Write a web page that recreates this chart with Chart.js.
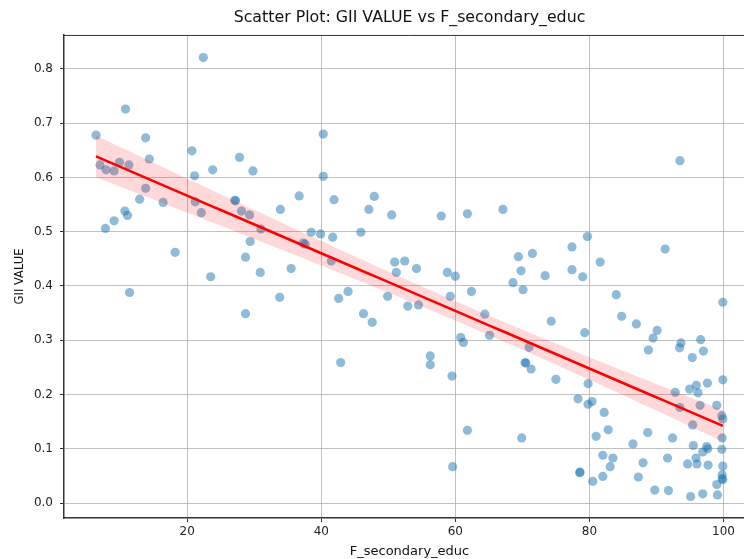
<!DOCTYPE html>
<html>
<head>
<meta charset="utf-8">
<script src="https://cdn.jsdelivr.net/npm/chart.js@4/dist/chart.umd.min.js"></script>
<style>
  html, body { margin: 0; padding: 0; background: #fff; overflow: hidden; }
  #wrap { width: 760px; height: 559px; }
</style>
</head>
<body>
<div id="wrap"><canvas id="scatterChart" width="760" height="559"></canvas></div>
<script>
// values
const fSecondaryEduc = [
  6.4, 7.0, 7.9, 9.1, 9.9, 11.3, 10.8, 13.8, 14.35, 20.7,
  21.1, 22.4, 23.8, 27.8, 29.8, 13.8, 12.9, 16.4, 21.2, 22.1,
  27.1, 27.2, 28.1, 29.3, 31.0, 33.9, 10.7, 11.1, 9.1, 7.8,
  29.4, 18.2, 28.7, 30.9, 23.5, 35.5, 11.4, 33.8, 28.7,
  40.3, 40.3, 36.7, 41.9, 47.9, 47.1, 50.5, 57.9, 61.8, 67.1,
  38.5, 39.9, 45.9, 41.7, 37.3, 37.6, 41.5, 50.95, 52.45, 51.2,
  54.2, 58.8, 60.0, 42.6, 44.0, 49.9, 46.3, 47.6, 52.9, 54.5,
  59.25, 62.4, 64.4, 60.8, 61.2, 65.1, 42.9, 56.25, 56.25, 59.5,
  61.8, 59.6, 68.6,
  93.5, 79.7, 77.4, 91.3, 69.4, 71.5, 81.6, 69.8, 77.4, 73.4,
  79.0, 70.1, 84.0, 99.9, 84.8, 87.0, 90.1, 89.5, 74.3, 79.3,
  93.65, 93.45, 96.6, 97.0, 88.8, 95.35, 71.0, 70.4, 70.5, 71.3,
  75.0, 79.8, 99.9, 94.95, 95.95, 96.2, 97.6, 92.8, 78.3, 80.4,
  79.8, 96.5, 93.5, 99.0, 99.75, 99.9, 82.2, 95.4, 69.9, 82.8,
  81.0, 88.7, 86.5, 92.4, 99.8, 95.5, 97.5, 97.65, 96.9, 99.75,
  82.0, 83.5, 83.1, 91.65, 95.9, 94.65, 96.05, 97.7, 88.0, 99.9,
  78.55, 78.6, 82.0, 80.5, 87.3, 99.8, 99.8, 99.9, 99.0, 89.75,
  91.8, 95.1, 96.9, 99.1
];
const giiValue = [
  0.678, 0.623, 0.614, 0.612, 0.628, 0.623, 0.726, 0.673, 0.634, 0.649,
  0.603, 0.821, 0.614, 0.637, 0.612, 0.580, 0.560, 0.554, 0.555, 0.535,
  0.558, 0.557, 0.538, 0.531, 0.505, 0.541, 0.538, 0.530, 0.520, 0.506,
  0.482, 0.462, 0.453, 0.425, 0.417, 0.432, 0.388, 0.379, 0.349,
  0.680, 0.602, 0.566, 0.559, 0.565, 0.541, 0.531, 0.529, 0.533, 0.541,
  0.499, 0.496, 0.499, 0.490, 0.479, 0.477, 0.446, 0.444, 0.446, 0.425,
  0.432, 0.425, 0.418, 0.377, 0.390, 0.381, 0.349, 0.333, 0.363, 0.365,
  0.381, 0.390, 0.348, 0.305, 0.296, 0.309, 0.259, 0.271, 0.255, 0.234,
  0.134, 0.067, 0.406,
  0.631, 0.491, 0.472, 0.468, 0.454, 0.460, 0.444, 0.428, 0.430, 0.419,
  0.417, 0.393, 0.384, 0.370, 0.344, 0.330, 0.318, 0.304, 0.335, 0.314,
  0.295, 0.286, 0.301, 0.280, 0.282, 0.268, 0.287, 0.259, 0.258, 0.247,
  0.228, 0.220, 0.227, 0.210, 0.217, 0.203, 0.221, 0.204, 0.192, 0.187,
  0.182, 0.180, 0.176, 0.180, 0.161, 0.155, 0.167, 0.144, 0.120, 0.135,
  0.123, 0.130, 0.109, 0.120, 0.120, 0.106, 0.104, 0.100, 0.094, 0.099,
  0.088, 0.083, 0.067, 0.083, 0.083, 0.072, 0.072, 0.070, 0.074, 0.068,
  0.056, 0.057, 0.049, 0.040, 0.048, 0.052, 0.045, 0.043, 0.034, 0.024,
  0.023, 0.012, 0.017, 0.015
];
const xTickValues = [20, 40, 60, 80, 100];
const yTickValues = [0.0, 0.1, 0.2, 0.3, 0.4, 0.5, 0.6, 0.7, 0.8];

// least squares fit + 95% confidence band, like seaborn regplot
function fitLine(xs, ys) {
  const n = xs.length;
  const mx = xs.reduce((a, b) => a + b, 0) / n;
  const my = ys.reduce((a, b) => a + b, 0) / n;
  let sxx = 0, sxy = 0;
  xs.forEach((x, i) => { sxx += (x - mx) ** 2; sxy += (x - mx) * (ys[i] - my); });
  const slope = sxy / sxx;
  const intercept = my - slope * mx;
  let sse = 0;
  xs.forEach((x, i) => { sse += (ys[i] - (intercept + slope * x)) ** 2; });
  const s = Math.sqrt(sse / (n - 2));
  return { n, mx, sxx, slope, intercept, s };
}

const fit = fitLine(fSecondaryEduc, giiValue);
const xLo = Math.min(...fSecondaryEduc);
const xHi = Math.max(...fSecondaryEduc);
const fitLinePts = [], bandUpper = [], bandLower = [];
for (let k = 0; k <= 60; k++) {
  const x = xLo + (xHi - xLo) * k / 60;
  const y = fit.intercept + fit.slope * x;
  const se = fit.s * Math.sqrt(1 / fit.n + (x - fit.mx) ** 2 / fit.sxx);
  fitLinePts.push({ x, y });
  bandUpper.push({ x, y: y + 1.975 * se });
  bandLower.push({ x, y: y - 1.975 * se });
}

// top spine (matplotlib box); the right one falls outside the window
const topSpine = {
  id: 'topSpine',
  afterDraw(chart) {
    const { ctx, chartArea } = chart;
    ctx.save();
    ctx.strokeStyle = '#333';
    ctx.lineWidth = 1;
    ctx.beginPath();
    ctx.moveTo(chartArea.left, chartArea.top + 0.5);
    ctx.lineTo(chartArea.right, chartArea.top + 0.5);
    ctx.stroke();
    ctx.restore();
  }
};

const font = 'DejaVu Sans';
const gridColor = 'rgba(176,176,176,0.8)';

new Chart(document.getElementById('scatterChart'), {
  type: 'scatter',
  data: {
    datasets: [{
      label: 'points',
      data: fSecondaryEduc.map((x, i) => ({ x, y: giiValue[i] })),
      backgroundColor: 'rgba(31,119,180,0.5)',
      borderWidth: 0,
      pointRadius: 4.6,
      order: 3
    }, {
      label: 'ci upper',
      data: bandUpper,
      showLine: true,
      fill: '+1',
      backgroundColor: 'rgba(255,0,0,0.15)',
      borderWidth: 0,
      pointRadius: 0,
      order: 2
    }, {
      label: 'ci lower',
      data: bandLower,
      showLine: true,
      fill: false,
      borderWidth: 0,
      pointRadius: 0,
      order: 2
    }, {
      label: 'fit',
      data: fitLinePts,
      showLine: true,
      borderColor: '#ff0000',
      borderWidth: 2.6,
      pointRadius: 0,
      order: 1
    }]
  },
  options: {
    responsive: false,
    animation: false,
    devicePixelRatio: 1,
    layout: { padding: { left: 0, right: 5, top: 0, bottom: 0 } },
    plugins: {
      legend: { display: false },
      tooltip: { enabled: false },
      title: {
        display: true,
        fullSize: false,
        text: 'Scatter Plot: GII VALUE vs F_secondary_educ',
        color: '#111',
        font: { family: font, size: 15.8, weight: 'normal' },
        padding: { top: 8, bottom: 8 }
      }
    },
    scales: {
      x: {
        type: 'linear',
        min: 1.62,
        max: 104.7,
        afterBuildTicks: s => { s.ticks = xTickValues.map(v => ({ value: v })); },
        afterFit: s => { s.height = 41; },
        grid: { color: gridColor, lineWidth: 1, tickLength: 4, tickColor: '#333' },
        border: { display: true, color: '#333', width: 1.5 },
        ticks: { color: '#222', font: { family: font, size: 12 }, padding: 3, maxRotation: 0 },
        title: {
          display: true, text: 'F_secondary_educ', color: '#111',
          font: { family: font, size: 13 }, padding: { top: 0, bottom: 0 }
        }
      },
      y: {
        type: 'linear',
        min: -0.0276,
        max: 0.8626,
        afterBuildTicks: s => { s.ticks = yTickValues.map(v => ({ value: v })); },
        afterFit: s => { s.width = 64; },
        grid: { color: gridColor, lineWidth: 1, tickLength: 4, tickColor: '#333' },
        border: { display: true, color: '#333', width: 1.5 },
        ticks: {
          color: '#222', font: { family: font, size: 12 }, padding: 7,
          callback: v => v.toFixed(1)
        },
        title: {
          display: true, text: 'GII VALUE', color: '#111',
          font: { family: font, size: 11.5 }, padding: { top: 13, bottom: 0 }
        }
      }
    }
  },
  plugins: [topSpine]
});
</script>
</body>
</html>
